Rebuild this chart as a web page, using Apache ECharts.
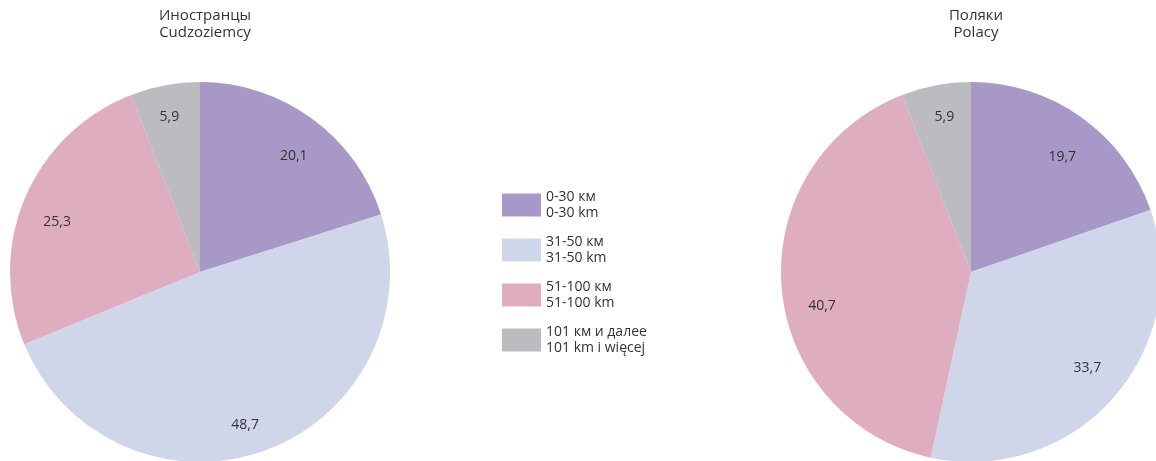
<!DOCTYPE html>
<html><head><meta charset="utf-8">
<script src="https://cdn.jsdelivr.net/npm/echarts@6/dist/echarts.min.js"></script>
<style>html,body{margin:0;padding:0;background:#fff}#c{width:1156px;height:461px}</style>
</head><body><div id="c"></div>
<script>
const categoriesRu = ["0-30 км", "31-50 км", "51-100 км", "101 км и далее"];
const categoriesPl = ["0-30 km", "31-50 km", "51-100 km", "101 km i więcej"];
const foreigners = [20.1, 48.7, 25.3, 5.9];
const poles = [19.7, 33.7, 40.7, 5.9];
const titlesLeft = ["Иностранцы", "Cudzoziemcy"];
const titlesRight = ["Поляки", "Polacy"];
const colors = ["#a898c8", "#d0d6ea", "#deadc0", "#bcbcc0"];

const FONT = "Open Sans";
const names = categoriesRu.map((r, i) => r + "\n" + categoriesPl[i]);
const mk = vals => vals.map((v, i) => ({ name: names[i], value: v }));
const fmt = p => String(p.value).replace(".", ",");

// small label nudges (style only), [dx, dy] per slice
const nudgeLeft = [[2, 10], [-8, 7], [0, 11], [-2, -2]];
const nudgeRight = [[1, 12], [0, -7], [6, 22], [2, -2]];

function pies(center, vals, nudge) {
  return [
    {
      type: "pie", center: center, radius: [0, 190], startAngle: 90, clockwise: true,
      data: mk(vals), label: { show: false }, labelLine: { show: false },
      itemStyle: { borderWidth: 0 }, emphasis: { disabled: true }, animation: false
    },
    {
      type: "pie", center: center, radius: [115, 190], startAngle: 90, clockwise: true,
      data: mk(vals), silent: true, legendHoverLink: false,
      itemStyle: { color: "rgba(0,0,0,0)", borderWidth: 0 },
      label: { show: true, position: "inside", formatter: fmt, color: "#333", fontSize: 14, fontFamily: FONT },
      labelLayout: p => ({ dx: nudge[p.dataIndex][0], dy: nudge[p.dataIndex][1] }),
      labelLine: { show: false }, emphasis: { disabled: true }, animation: false
    }
  ];
}

const chart = echarts.init(document.getElementById("c"), null, { renderer: "canvas" });
chart.setOption({
  color: colors,
  animation: false,
  title: [
    { text: titlesLeft.join("\n"), left: 200, top: 2, textAlign: "center",
      textStyle: { fontSize: 15, fontWeight: "normal", color: "#333", lineHeight: 17, fontFamily: FONT } },
    { text: titlesRight.join("\n"), left: 971, top: 2, textAlign: "center",
      textStyle: { fontSize: 15, fontWeight: "normal", color: "#333", lineHeight: 17, fontFamily: FONT } }
  ],
  legend: {
    orient: "vertical", left: 502, top: 189, padding: 0, icon: "rect",
    itemWidth: 39, itemHeight: 23, itemGap: 13, selectedMode: false,
    data: names,
    textStyle: { fontSize: 14, color: "#333", lineHeight: 16, fontFamily: FONT }
  },
  series: [
    ...pies([200, 272], foreigners, nudgeLeft),
    ...pies([971, 272], poles, nudgeRight)
  ]
});
</script></body></html>
